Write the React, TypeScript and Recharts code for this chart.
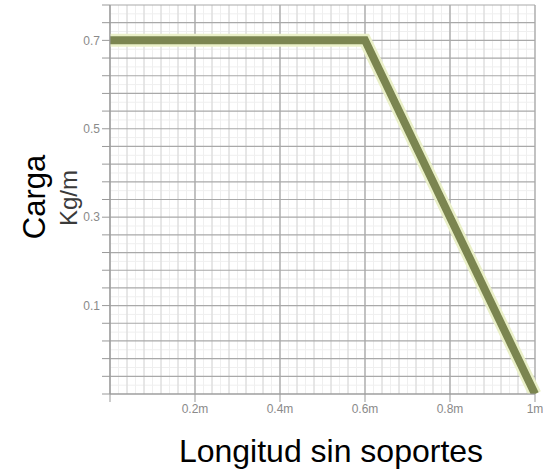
import React from 'react';
import { LineChart, Line, XAxis, YAxis, CartesianGrid, Label } from 'recharts';

// Data: unsupported length (m) vs load (Kg/m)
const lengths = [0, 0.6, 1];
const loads = [0.7, 0.7, 0];

// Axis ticks and labels
const xTickValues = [0, 0.2, 0.4, 0.6, 0.8, 1];
const xTickLabels = ['', '0.2m', '0.4m', '0.6m', '0.8m', '1m'];
const yLabelValues = [0.175, 0.35, 0.525, 0.7];
const yTickLabels = ['0.1', '0.3', '0.5', '0.7'];
const yStep = 0.035;
const yMax = 0.77;

const data = lengths.map((x, i) => ({ x, y: loads[i] }));

const round = (v: number) => Math.round(v * 10000) / 10000;
const yTicks = Array.from({ length: Math.round(yMax / yStep) + 1 }, (_, i) => round(i * yStep));
const yFaint = Array.from({ length: Math.round(yMax / yStep) }, (_, i) => round((i + 0.5) * yStep));
const xMedium = Array.from({ length: 26 }, (_, i) => round(i * 0.04));
const xFaint = Array.from({ length: 51 }, (_, i) => round(i * 0.02));

const yFormatter = (v: number) => {
  const idx = yLabelValues.findIndex((t) => Math.abs(t - v) < 1e-6);
  return idx >= 0 ? yTickLabels[idx] : '';
};
const xFormatter = (v: number) => {
  const idx = xTickValues.findIndex((t) => Math.abs(t - v) < 1e-6);
  return idx >= 0 ? xTickLabels[idx] : '';
};

const font = 'Liberation Sans, Arial, sans-serif';

const YTitle = () => (
  <g>
    <text transform="translate(45,197) rotate(-90)" textAnchor="middle" fontSize={31} fontFamily={font} fill="#000">
      Carga
    </text>
    <text transform="translate(77,198) rotate(-90)" textAnchor="middle" fontSize={24} fontFamily={font} fill="#3a3a3a">
      Kg/m
    </text>
  </g>
);

const XTitle = () => (
  <text x={331} y={462} textAnchor="middle" fontSize={32} fontFamily={font} fill="#000">
    Longitud sin soportes
  </text>
);

export default function App() {
  return (
    <div style={{ position: 'absolute', left: 0, top: 0, width: 543, height: 470, background: '#fff' }}>
      <LineChart width={543} height={470} data={data} margin={{ top: 5, right: 8, left: 0, bottom: 0 }}>
        <CartesianGrid horizontalValues={yFaint} verticalValues={xFaint} stroke="#efefef" strokeWidth={1} />
        <CartesianGrid horizontal={false} verticalValues={xMedium} stroke="#d6d6d6" strokeWidth={1} />
        <CartesianGrid horizontalValues={yTicks} verticalValues={xTickValues} stroke="#a9a9a9" strokeWidth={1.2} />
        <XAxis
          dataKey="x"
          type="number"
          domain={[0, 1]}
          ticks={xTickValues}
          tickFormatter={xFormatter}
          height={76}
          tickSize={8}
          stroke="#999"
          tick={{ fontSize: 12, fill: '#8a8a8a', fontFamily: font }}
          interval={0}
          label={{ content: () => <XTitle /> }}
        />
        <YAxis
          dataKey="y"
          type="number"
          domain={[0, yMax]}
          ticks={yTicks}
          tickFormatter={yFormatter}
          width={110}
          tickSize={8}
          stroke="#999"
          tick={{ fontSize: 12, fill: '#8a8a8a', fontFamily: font }}
          interval={0}
          allowDataOverflow
          label={{ content: () => <YTitle /> }}
        />
        <Line
          dataKey="y"
          type="linear"
          stroke="#eaf0c8"
          strokeWidth={13}
          dot={false}
          isAnimationActive={false}
        />
        <Line
          dataKey="y"
          type="linear"
          stroke="#7b8550"
          strokeWidth={8}
          dot={false}
          isAnimationActive={false}
        />
      </LineChart>
    </div>
  );
}
